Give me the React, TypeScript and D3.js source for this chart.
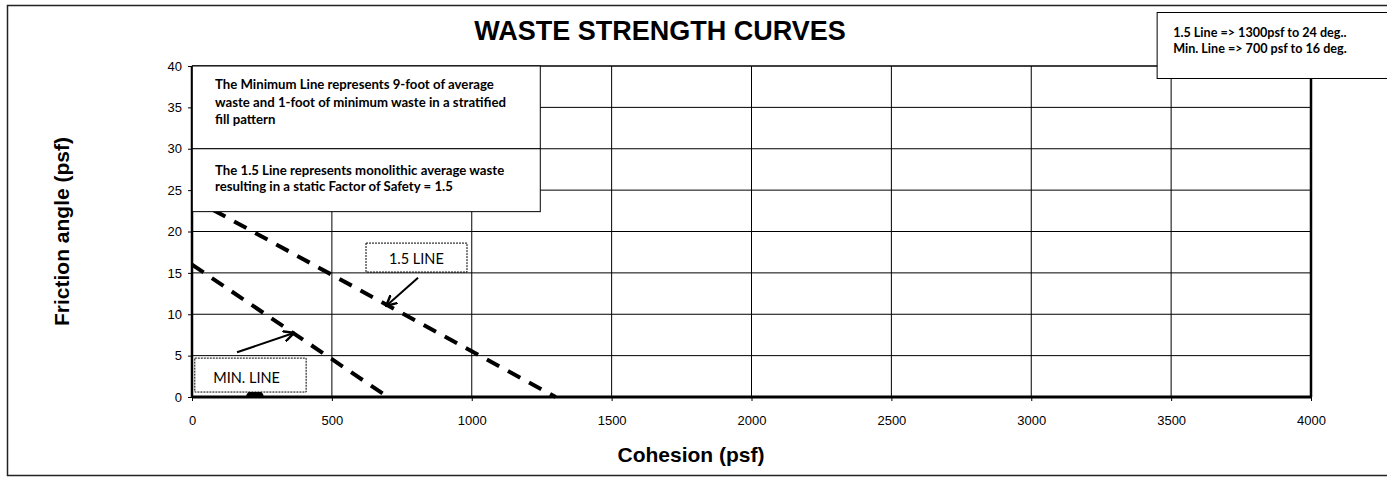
import { useRef, useEffect } from 'react';
import * as d3 from 'd3';

// axis ticks
const cohesionTicks = [0, 500, 1000, 1500, 2000, 2500, 3000, 3500, 4000];
const frictionTicks = [0, 5, 10, 15, 20, 25, 30, 35, 40];

// strength lines (cohesion psf, friction angle)
const minLine = [
  { c: 0, f: 16 },
  { c: 700, f: 0 },
];
const line15 = [
  { c: 0, f: 24 },
  { c: 1300, f: 0 },
];
const markerPoint = { c: 225, f: 0 };

const noteLines = ['1.5 Line => 1300psf to 24 deg..', 'Min. Line => 700 psf to 16 deg.'];
const minTextLines = [
  'The Minimum Line represents 9-foot of average',
  'waste and 1-foot of minimum waste in a stratified',
  'fill pattern',
];
const textLines15 = [
  'The 1.5 Line represents monolithic average waste',
  'resulting in a static Factor of Safety = 1.5',
];

const W = 1387;
const H = 480;

export default function App() {
  const svgRef = useRef<SVGSVGElement>(null);

  useEffect(() => {
    if (!svgRef.current) return;
    const svg = d3.select(svgRef.current);
    svg.selectAll('*').remove();

    const x = d3.scaleLinear().domain([0, 4000]).range([192, 1311]);
    const y = d3.scaleLinear().domain([0, 40]).range([397, 66]);
    const arial = 'Liberation Sans, Arial, sans-serif';
    const calibri = 'Lato, Open Sans, sans-serif';

    svg.append('rect').attr('width', W).attr('height', H).attr('fill', '#fff');

    const defs = svg.append('defs');
    defs.append('clipPath').attr('id', 'plot-clip')
      .append('rect')
      .attr('x', x(0)).attr('y', y(40))
      .attr('width', x(4000) - x(0)).attr('height', y(0) - y(40));

    // outer frame
    svg.append('rect')
      .attr('x', 7.5).attr('y', 5.5)
      .attr('width', W + 10).attr('height', 470)
      .attr('fill', 'none')
      .attr('stroke', '#222')
      .attr('stroke-width', 1.5);

    // title
    svg.append('text')
      .attr('x', 660).attr('y', 40)
      .attr('text-anchor', 'middle')
      .attr('font-family', arial)
      .attr('font-weight', 'bold')
      .attr('font-size', 27)
      .text('WASTE STRENGTH CURVES');

    // grid
    const g = svg.append('g');
    g.selectAll('.hgrid')
      .data(frictionTicks.slice(1, -1))
      .join('line')
      .attr('x1', x(0)).attr('x2', x(4000))
      .attr('y1', (d) => y(d)).attr('y2', (d) => y(d))
      .attr('stroke', '#000').attr('stroke-width', 1);
    g.selectAll('.vgrid')
      .data(cohesionTicks.slice(1, -1))
      .join('line')
      .attr('x1', (d) => x(d)).attr('x2', (d) => x(d))
      .attr('y1', y(0)).attr('y2', y(40))
      .attr('stroke', '#000').attr('stroke-width', 1);

    // plot border
    g.append('line').attr('x1', x(0)).attr('x2', x(4000)).attr('y1', y(40)).attr('y2', y(40))
      .attr('stroke', '#000').attr('stroke-width', 1.5);
    g.append('line').attr('x1', x(4000)).attr('x2', x(4000)).attr('y1', y(40)).attr('y2', y(0))
      .attr('stroke', '#000').attr('stroke-width', 2.5);

    // marker (half hidden by the axis / label box)
    svg.append('ellipse')
      .attr('clip-path', 'url(#plot-clip)')
      .attr('cx', x(markerPoint.c)).attr('cy', y(markerPoint.f))
      .attr('rx', 9).attr('ry', 7)
      .attr('fill', '#000');

    // axes
    const xAxis = svg.append('g')
      .attr('transform', `translate(0,${y(0)})`)
      .call(d3.axisBottom(x).tickValues(cohesionTicks).tickSize(4).tickFormat(d3.format('d')));
    xAxis.select('.domain').attr('stroke-width', 3).attr('d', `M${x(0)},0H${x(4000)}`);
    xAxis.selectAll('text')
      .attr('font-family', arial).attr('font-size', 13).attr('dy', '1.6em').attr('fill', '#000');

    const yAxis = svg.append('g')
      .attr('transform', `translate(${x(0)},0)`)
      .call(d3.axisLeft(y).tickValues(frictionTicks).tickSize(4).tickFormat(d3.format('d')));
    yAxis.select('.domain').attr('stroke-width', 2.5).attr('d', `M0,${y(40)}V${y(0)}`);
    yAxis.selectAll('text')
      .attr('font-family', arial).attr('font-size', 13).attr('x', -10).attr('fill', '#000');

    // axis titles
    svg.append('text')
      .attr('x', 691).attr('y', 462)
      .attr('text-anchor', 'middle')
      .attr('font-family', arial).attr('font-weight', 'bold').attr('font-size', 21)
      .text('Cohesion (psf)');
    svg.append('text')
      .attr('transform', `translate(69,${(y(0) + y(40)) / 2}) rotate(-90)`)
      .attr('text-anchor', 'middle')
      .attr('font-family', arial).attr('font-weight', 'bold').attr('font-size', 21)
      .text('Friction angle (psf)');

    // strength lines
    const line = d3.line<{ c: number; f: number }>()
      .x((d) => x(d.c))
      .y((d) => y(d.f));
    [minLine, line15].forEach((pts) => {
      svg.append('path')
        .datum(pts)
        .attr('fill', 'none')
        .attr('stroke', '#000')
        .attr('stroke-width', 4)
        .attr('stroke-dasharray', '14,10')
        .attr('d', line);
    });

    // text boxes over the plot
    const box = (c0: number, c1: number, f0: number, f1: number, dashed = false) =>
      svg.append('rect')
        .attr('x', x(c0)).attr('y', y(f0))
        .attr('width', x(c1) - x(c0)).attr('height', y(f1) - y(f0))
        .attr('fill', '#fff')
        .attr('stroke', '#000')
        .attr('stroke-width', 1)
        .attr('stroke-dasharray', dashed ? '2,1' : null);

    box(1, 1245, 40, 30);
    box(1, 1245, 30, 22.4);

    const textBlock = (lines: string[], px: number, py: number, size: number, lh: number) => {
      const t = svg.append('text')
        .attr('font-family', calibri).attr('font-weight', 'bold').attr('font-size', size);
      lines.forEach((s, i) => {
        t.append('tspan').attr('x', px).attr('y', py + i * lh).text(s);
      });
    };
    textBlock(minTextLines, x(0) + 23, y(40) + 23, 13.2, 17.5);
    textBlock(textLines15, x(0) + 23, y(30) + 26, 13.2, 16.5);

    // 1.5 LINE label
    box(622, 983, 18.6, 15.1, true);
    svg.append('text')
      .attr('x', x(802)).attr('y', y(15.1) - 8)
      .attr('text-anchor', 'middle')
      .attr('font-family', calibri).attr('font-size', 14.5)
      .text('1.5 LINE');

    // MIN. LINE label
    box(10, 408, 4.7, 0.6, true);
    svg.append('text')
      .attr('x', x(195)).attr('y', y(0.6) - 9)
      .attr('text-anchor', 'middle')
      .attr('font-family', calibri).attr('font-size', 14.5)
      .text('MIN. LINE');

    // arrows
    defs.append('marker')
      .attr('id', 'arrowhead')
      .attr('viewBox', '0 0 10 10')
      .attr('refX', 8).attr('refY', 5)
      .attr('markerWidth', 6).attr('markerHeight', 6)
      .attr('orient', 'auto')
      .append('path')
      .attr('d', 'M0,0.5L9,5L0,9.5')
      .attr('fill', 'none')
      .attr('stroke', '#000')
      .attr('stroke-width', 2);
    const arrow = (c0: number, f0: number, c1: number, f1: number) =>
      svg.append('line')
        .attr('x1', x(c0)).attr('y1', y(f0))
        .attr('x2', x(c1)).attr('y2', y(f1))
        .attr('stroke', '#000').attr('stroke-width', 2)
        .attr('marker-end', 'url(#arrowhead)');
    arrow(808, 14.4, 697, 11.1);
    arrow(161, 5.4, 361, 7.7);

    // note box top right
    const nx = x(3450);
    svg.append('rect')
      .attr('x', nx).attr('y', 12.5)
      .attr('width', W - nx + 10).attr('height', 66)
      .attr('fill', '#fff')
      .attr('stroke', '#000')
      .attr('stroke-width', 1);
    textBlock(noteLines, nx + 16, 37, 12.6, 16);
  }, []);

  return (
    <svg
      ref={svgRef}
      width={W}
      height={H}
      style={{ position: 'absolute', left: 0, top: 0 }}
    />
  );
}
